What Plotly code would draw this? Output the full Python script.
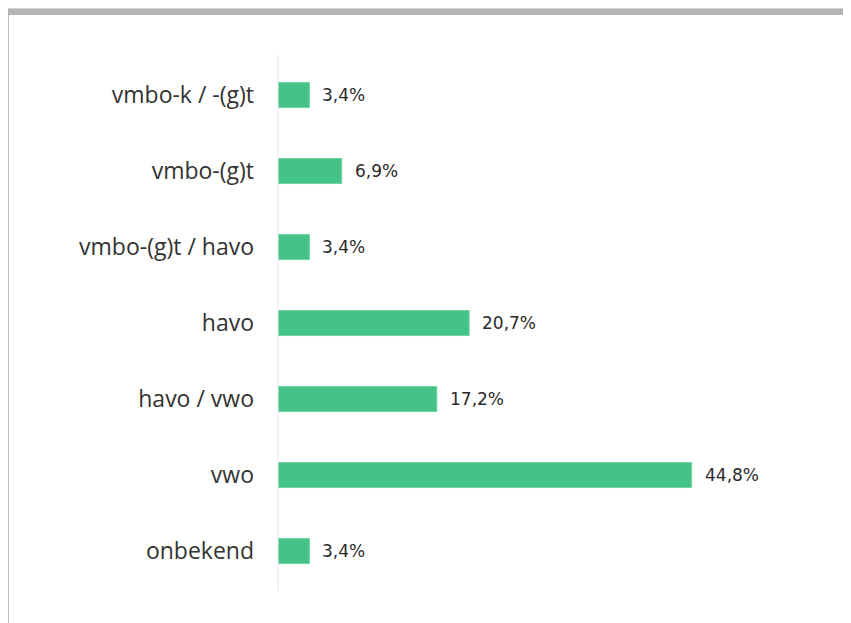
import plotly.graph_objects as go

categories = ["vmbo-k / -(g)t", "vmbo-(g)t", "vmbo-(g)t / havo", "havo", "havo / vwo", "vwo", "onbekend"]
values = [3.4, 6.9, 3.4, 20.7, 17.2, 44.8, 3.4]
value_labels = ["3,4%", "6,9%", "3,4%", "20,7%", "17,2%", "44,8%", "3,4%"]

# page body has an 8px margin, so work in reference pixels shifted by OFF
OFF = 8
W, H = 851 - OFF, 623 - OFF
L, R, T, B = 278 - OFF, 19, 57 - OFF, 34
pw, ph = W - L - R, H - T - B

def px_x(p):
    return (p - OFF - L) / pw

def px_y(p):
    return (H - B - (p - OFF)) / ph

fig = go.Figure()
fig.add_trace(go.Bar(
    x=values, y=categories, orientation="h",
    marker=dict(color="#45c386", line=dict(color="#6fd3a3", width=1)),
    width=0.33, hoverinfo="skip",
))

for c, v, t in zip(categories, values, value_labels):
    fig.add_annotation(x=v, y=c, text=t, showarrow=False, xanchor="left", xshift=11,
                       font=dict(family="DejaVu Sans", size=17, color="#2a2a2a"))

shapes = []
for y0, y1, col in [(0, 4, "#e6e6e6"), (4, 9, "#d3d3d3"), (9, 15, "#b5b5b5")]:
    shapes.append(dict(type="rect", xref="paper", yref="paper", x0=px_x(0), x1=px_x(900),
                       y0=px_y(y1), y1=px_y(y0), fillcolor=col, line=dict(width=0), layer="above"))
for x0, x1, col in [(0, 6, "#d0d0d0"), (6, 9, "#bdbdbd")]:
    shapes.append(dict(type="rect", xref="paper", yref="paper", x0=px_x(x0), x1=px_x(x1),
                       y0=px_y(700), y1=px_y(15), fillcolor=col, line=dict(width=0), layer="above"))
shapes.append(dict(type="line", xref="paper", yref="paper", x0=0, x1=0, y0=px_y(591), y1=px_y(55),
                   line=dict(color="#e8e8e8", width=1)))

fig.update_layout(
    width=W, height=H,
    margin=dict(l=L, r=R, t=T, b=B),
    paper_bgcolor="white", plot_bgcolor="white",
    showlegend=False,
    shapes=shapes,
    xaxis=dict(range=[0, 60], showgrid=False, zeroline=False, showticklabels=False, showline=False),
    yaxis=dict(categoryorder="array", categoryarray=categories, autorange="reversed",
               showgrid=False, zeroline=False, showline=False, ticks="",
               ticklabelstandoff=23,
               tickfont=dict(family="Open Sans", size=23, color="#333333")),
)

fig.write_html("out.html")
